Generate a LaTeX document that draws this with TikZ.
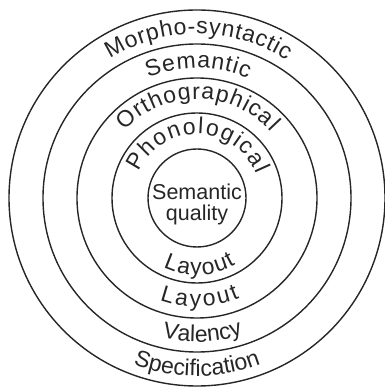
\documentclass[tikz,border=0pt]{standalone}
\usepackage{fontspec}
\setmainfont{Liberation Sans}
\usetikzlibrary{decorations.text}
\newcommand\ringfont{\fontsize{23}{23}\selectfont}
\newcommand\corefont{\fontsize{21.5}{21}\selectfont}

\begin{document}
\begin{tikzpicture}[
    x=1pt, y=1pt,
    ring/.style={draw=black!85, line width=1.4pt},
    arclabel/.style={decorate,
                     decoration={text along path,
                                 text align={fit to path},
                                 text color=black!85,
                                 text={|\ringfont|#1}}}
]
\useasboundingbox (-197,-189) rectangle (187,198);
\coordinate (c) at (0,0);

% rings, outside in
\draw[ring] (c) circle[radius=188];
\draw[ring] (c) circle[radius=154];
\draw[ring] (c) circle[radius=120];
\draw[ring] (c) circle[radius=85];
\draw[ring] (c) circle[radius=49];

\node[font=\corefont, text=black!85, align=center, inner sep=0pt] (core) at (0,-6) {Semantic\\quality};

% upper labels
\path[arclabel=Morpho-syntactic] (122:164) arc[start angle=122, end angle=57, radius=164];
\path[arclabel=Semantic] (112:130) arc[start angle=112, end angle=67, radius=130];
\path[arclabel=Orthographical] (137:99) arc[start angle=137, end angle=42, radius=99];
\path[arclabel=Phonological] (156:64) arc[start angle=156, end angle=22, radius=64];

% lower labels
\path[arclabel=Layout] (-116:77) arc[start angle=-116, end angle=-60, radius=77];
\path[arclabel=Layout] (-110:109) arc[start angle=-110, end angle=-67, radius=109];
\path[arclabel=Valency] (-104:144) arc[start angle=-104, end angle=-73, radius=144];
\path[arclabel=Specification] (-111:178) arc[start angle=-111, end angle=-69, radius=178];
\end{tikzpicture}
\end{document}
